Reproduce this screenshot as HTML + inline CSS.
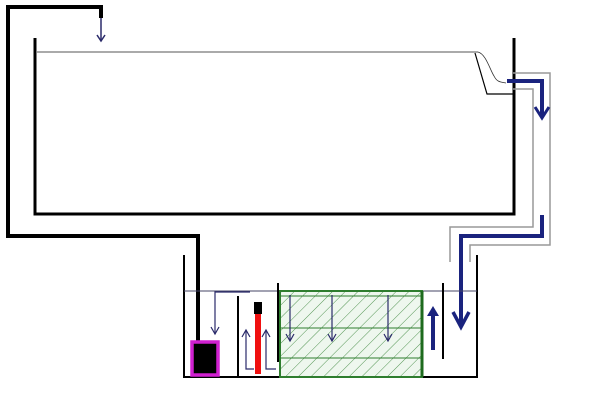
<!DOCTYPE html>
<html><head><style>html,body{margin:0;padding:0;background:#fff}svg{display:block}</style></head>
<body>
<svg width="600" height="407" viewBox="0 0 600 407" xmlns="http://www.w3.org/2000/svg">
<defs>
<pattern id="h" width="9" height="9" patternUnits="userSpaceOnUse" patternTransform="rotate(45)">
<rect width="9" height="9" fill="#eef7ee"/><line x1="0" y1="0" x2="0" y2="9" stroke="#2e7d2e" stroke-width="0.8"/>
</pattern>
</defs>
<!-- outer return pipe -->
<polyline points="101,18 101,7 8,7 8,236 198,236 198,342" fill="none" stroke="#000" stroke-width="4"/>
<line x1="101" y1="18" x2="101" y2="41" stroke="#2a2a6a" stroke-width="1.5"/>
<polyline points="97,35 101,41 105,35" fill="none" stroke="#2a2a6a" stroke-width="1.5"/>
<!-- main tank -->
<polyline points="35,38 35,214 514,214 514,38" fill="none" stroke="#000" stroke-width="3"/>
<line x1="37" y1="52" x2="478" y2="52" stroke="#555" stroke-width="1"/>
<path d="M478,52 C486,54 490,70 494,76 C497,82 500,82 506,83" fill="none" stroke="#333" stroke-width="0.8"/>
<polyline points="475,53 487,94 513,94" fill="none" stroke="#000" stroke-width="1.2"/>
<!-- grey overflow pipe -->
<polyline points="513,73 550,73 550,245 470,245 470,262" fill="none" stroke="#999" stroke-width="1.5"/>
<polyline points="513,89 533,89 533,227 450,227 450,262" fill="none" stroke="#999" stroke-width="1.5"/>
<!-- blue flow arrows -->
<polyline points="507,81 542,81 542,116" fill="none" stroke="#1a237e" stroke-width="4"/>
<polyline points="535,107 542,118 549,107" fill="none" stroke="#1a237e" stroke-width="3"/>
<polyline points="542,215 542,236 461,236 461,326" fill="none" stroke="#1a237e" stroke-width="4"/>
<polyline points="453,312 461,327 469,312" fill="none" stroke="#1a237e" stroke-width="3.5"/>
<!-- sump -->
<polyline points="184,255 184,377 477,377 477,255" fill="none" stroke="#000" stroke-width="2"/>
<line x1="184" y1="291" x2="477" y2="291" stroke="#446" stroke-width="1"/>
<!-- pump -->
<rect x="192" y="342" width="26" height="33" fill="#000" stroke="#d020d0" stroke-width="3.5"/>
<polyline points="250,292 215,292 215,334" fill="none" stroke="#2a2a6a" stroke-width="1.2"/>
<polyline points="211,327 215,334 219,327" fill="none" stroke="#2a2a6a" stroke-width="1.2"/>
<line x1="238" y1="296" x2="238" y2="377" stroke="#000" stroke-width="2"/>
<!-- heater -->
<rect x="255" y="308" width="6" height="66" fill="#f01010"/>
<rect x="254" y="302" width="8" height="12" fill="#000"/>
<polyline points="254,369 246,369 246,330" fill="none" stroke="#2a2a6a" stroke-width="1.2"/>
<polyline points="242,337 246,330 250,337" fill="none" stroke="#2a2a6a" stroke-width="1.2"/>
<polyline points="276,369 266,369 266,330" fill="none" stroke="#2a2a6a" stroke-width="1.2"/>
<polyline points="262,337 266,330 270,337" fill="none" stroke="#2a2a6a" stroke-width="1.2"/>
<line x1="278" y1="283" x2="278" y2="362" stroke="#000" stroke-width="2"/>
<!-- media -->
<rect x="280" y="291" width="142" height="86" fill="url(#h)" stroke="#2e7d2e" stroke-width="2"/>
<line x1="280" y1="296" x2="422" y2="296" stroke="#2e7d2e" stroke-width="1"/>
<line x1="280" y1="328" x2="422" y2="328" stroke="#2e7d2e" stroke-width="1"/>
<line x1="280" y1="358" x2="422" y2="358" stroke="#2e7d2e" stroke-width="1"/>
<line x1="422" y1="291" x2="422" y2="377" stroke="#1e6b1e" stroke-width="3"/>
<g stroke="#2a2a6a" stroke-width="1.2" fill="none">
<line x1="290" y1="295" x2="290" y2="341"/><polyline points="286,334 290,341 294,334"/>
<line x1="332" y1="295" x2="332" y2="341"/><polyline points="328,334 332,341 336,334"/>
<line x1="388" y1="295" x2="388" y2="341"/><polyline points="384,334 388,341 392,334"/>
</g>
<line x1="443" y1="283" x2="443" y2="359" stroke="#000" stroke-width="2"/>
<line x1="433" y1="350" x2="433" y2="312" stroke="#1a237e" stroke-width="4"/>
<polygon points="427,316 433,306 439,316" fill="#1a237e"/>
</svg>
</body></html>
